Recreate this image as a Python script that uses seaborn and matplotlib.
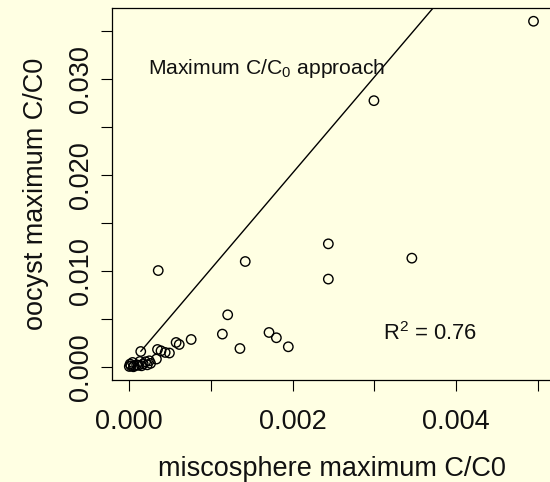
import matplotlib
matplotlib.use("Agg")
import matplotlib.pyplot as plt
import pandas as pd
import seaborn as sns

# ---- data ----
microsphere_max = [
    0.004947, 0.002994, 0.002436, 0.002436, 0.003458, 0.001419, 0.000354,
    0.001204, 0.001139, 0.001354, 0.001710, 0.001800, 0.001946,
    0.000757, 0.000573, 0.000611, 0.000491, 0.000439, 0.000388, 0.000345,
    0.000140, 0.000332,
    0.000000, 0.000010, 0.000040, 0.000090, 0.000130, 0.000170, 0.000200,
    0.000245, 0.000020, 0.000060, 0.000110, 0.000220, 0.000260, 0.000050,
    0.000150,
]
oocyst_max = [
    0.03598, 0.02771, 0.01280, 0.00913, 0.01131, 0.01096, 0.01002,
    0.00541, 0.00340, 0.00190, 0.00357, 0.00302, 0.00208,
    0.00284, 0.00253, 0.00232, 0.00143, 0.00149, 0.00166, 0.00180,
    0.00159, 0.00080,
    0.00003, 0.00028, 0.00045, 0.00020, 0.00055, 0.00030, 0.00052,
    0.00062, 0.00010, 0.00010, 0.00015, 0.00020, 0.00035, 0.00000,
    0.00010,
]
line_x = [0.00014, 0.00376]
line_y = [0.00160, 0.03778]

x_ticks = [0.000, 0.001, 0.002, 0.003, 0.004, 0.005]
x_labels = ["0.000", "", "0.002", "", "0.004", ""]
y_ticks = [0.000, 0.005, 0.010, 0.015, 0.020, 0.025, 0.030, 0.035]
y_labels = ["0.000", "", "0.010", "", "0.020", "", "0.030", ""]

x_title = "miscosphere maximum C/C0"
y_title = "oocyst maximum C/C0"
note_text = r"Maximum C/C$_\mathrm{0}$ approach"
r2_text = r"R$^\mathrm{2}$ = 0.76"

# ---- style ----
sns.set_theme(style="white")
BG = "#FFFFE3"
plt.rcParams["font.family"] = ["Liberation Sans", "DejaVu Sans"]
plt.rcParams["mathtext.fontset"] = "custom"
plt.rcParams["mathtext.rm"] = "Liberation Sans"
plt.rcParams["mathtext.it"] = "Liberation Sans:italic"
plt.rcParams["mathtext.bf"] = "Liberation Sans:bold"

df = pd.DataFrame({"x": microsphere_max, "y": oocyst_max})

fig = plt.figure(figsize=(5.5, 4.82), dpi=100, facecolor=BG)
ax = fig.add_axes([0.2042, 0.2116, 0.7982, 0.7712])
ax.set_facecolor(BG)

sns.scatterplot(data=df, x="x", y="y", ax=ax, marker="o", s=46,
                facecolor="none", edgecolor="black", linewidth=1.0,
                legend=False, zorder=3)
sns.lineplot(x=line_x, y=line_y, ax=ax, color="black", linewidth=1.0,
             sort=False, estimator=None)

ax.set_xlim(-0.000208, 0.005165)
ax.set_ylim(-0.00138, 0.03733)

ax.set_xticks(x_ticks)
ax.set_xticklabels(x_labels)
ax.set_yticks(y_ticks)
ax.set_yticklabels(y_labels, rotation=90, va="center")

ax.tick_params(axis="both", which="major", direction="out", length=8,
               width=0.8, color="black", labelsize=19.5, labelcolor="#111111")
ax.tick_params(axis="x", pad=13)
ax.tick_params(axis="y", pad=5)
ax.xaxis.set_ticks_position("bottom")
ax.yaxis.set_ticks_position("left")

for side in ["left", "top", "bottom"]:
    ax.spines[side].set_visible(True)
    ax.spines[side].set_color("black")
    ax.spines[side].set_linewidth(0.9)
ax.spines["right"].set_visible(False)

ax.set_xlabel(x_title, fontsize=19.5, color="#111111")
ax.set_ylabel(y_title, fontsize=19.5, color="#111111")
ax.xaxis.set_label_coords(0.5, -0.2045)
ax.yaxis.set_label_coords(-0.144, 0.5)

ax.text(0.000225, 0.03046, note_text, fontsize=15.2, color="#111111",
        ha="left", va="baseline")
ax.text(0.003109, 0.00281, r2_text, fontsize=15.8, color="#111111",
        ha="left", va="baseline")

fig.savefig("out.png", dpi=100, facecolor=BG)
